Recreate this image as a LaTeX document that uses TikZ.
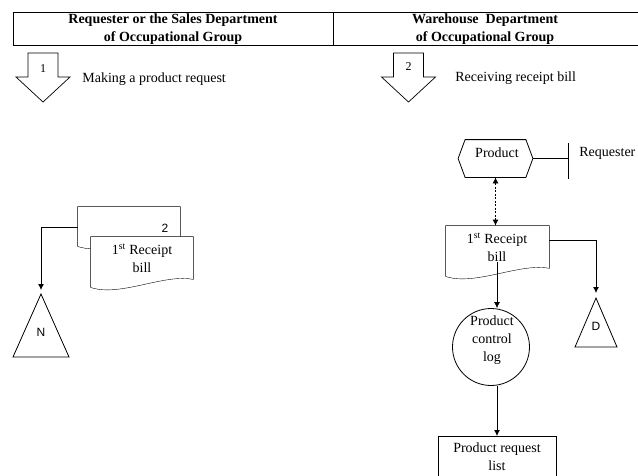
\documentclass[tikz,border=0pt]{standalone}
\usepackage{fontspec}
\setmainfont{Liberation Serif}
\newfontfamily\labelsans{Liberation Sans}
\usetikzlibrary{arrows.meta,calc,backgrounds}

% outline of a document symbol: straight top and sides, wavy bottom edge
\newcommand\docoutline[1]{%
  \draw[fill=white] (#1.north west) -- (#1.north east)
    -- ($(#1.south east)+(0,-8)$)
    .. controls ($(#1.south east)+(-29,-14)$) and ($(#1.south west)+(29,10)$) .. (#1.south west)
    -- cycle;}

\begin{document}
\begin{tikzpicture}[x=1pt,y=-1pt,
  line width=0.8pt,
  txt/.style={inner sep=0pt, align=center, font=\fontsize{14}{18}\selectfont},
  hdr/.style={inner sep=0pt, align=center, font=\bfseries\fontsize{14}{18}\selectfont},
  num/.style={inner sep=0pt, font=\fontsize{12}{14}\selectfont},
  sanslbl/.style={inner sep=0pt, font=\labelsans\fontsize{12}{14}\selectfont},
  cell/.style={draw, rectangle, inner sep=0pt, minimum height=33, anchor=north west},
  area/.style={rectangle, inner sep=0pt},
  flow/.style={-{Latex[length=6pt,width=6pt]}},
  blockarrow/.pic={\draw[line width=0.7pt, fill=white]
      (-15,0) -- (15,0) -- (15,24) -- (27,24) -- (0,49) -- (-27,24) -- (-15,24) -- cycle;}
]
\clip (0,0) rectangle (638,475);
\begin{scope}[on background layer]
  \fill[white] (0,0) rectangle (638,475);
\end{scope}

% header row
\node[cell, minimum width=320] (col1) at (12.5,12.3) {};
\node[cell, minimum width=320] (col2) at (332.5,12.3) {};
\node[hdr] (h1) at (173,29) {Requester or the Sales Department\\of Occupational Group};
\node[hdr] (h2) at (485,29) {Warehouse\ \ Department\\of Occupational Group};

% step markers
\pic at (43,53) {blockarrow};
\node[num] (s1) at (43,69) {1};
\node[txt, anchor=west] (s1t) at (82,79) {Making a product request};
\pic at (408.5,53) {blockarrow};
\node[num] (s2) at (408.5,67) {2};
\node[txt, anchor=west] (s2t) at (455,78) {Receiving receipt bill};

% requester side: two copies of the receipt bill
\node[area, minimum width=102, minimum height=39] (bd) at (129,226.5) {};
\node[area, minimum width=102, minimum height=50] (fd) at (142,262) {};
\begin{scope}[on background layer]
  \docoutline{bd}
  \docoutline{fd}
\end{scope}
\node[sanslbl] (bdn) at (165,228) {2};
\node[txt] (fdt) at (142,258) {1\textsuperscript{st} Receipt\\bill};

\coordinate (napex) at (41,294);
\draw (napex) -- (69,357) -- (13,357) -- cycle;
\node[sanslbl] (ntxt) at (41,332) {N};
\draw[flow, shorten >=4pt] ($(bd.north west)+(0,21)$) -| (napex);

% warehouse side
\node[area, minimum width=74, minimum height=37] (prod) at (495.5,158.5) {};
\draw (prod.west) -- ($(prod.north west)+(7,0)$) -- ($(prod.north east)+(-7,0)$)
  -- (prod.east) -- ($(prod.south east)+(-7,0)$) -- ($(prod.south west)+(7,0)$) -- cycle;
\node[txt] (prodt) at (497,153) {Product};
\coordinate (rq) at (568,158.5);
\draw (prod.east) -- (rq);
\draw ($(rq)+(0,-15.5)$) -- ($(rq)+(0,20.5)$);
\node[txt, anchor=west] (rqt) at (579,153) {Requester};

\node[area, minimum width=103, minimum height=50] (rb) at (497.5,251) {};
\begin{scope}[on background layer]
  \docoutline{rb}
\end{scope}
\node[txt] (rbt) at (497,247) {1\textsuperscript{st} Receipt\\bill};

\draw[{Latex[length=6pt,width=6pt]}-{Latex[length=6pt,width=6pt]}, dash pattern=on 2pt off 1.5pt]
  (prod.south) -- (prod.south |- rb.north);

\coordinate (dapex) at (596,298);
\draw (dapex) -- (617,347) -- (575,347) -- cycle;
\node[sanslbl] (dtxt) at (596,326) {D};
\draw[flow, shorten >=5pt] ($(rb.north east)+(0,15)$) -| (dapex);

\node[draw, circle, minimum size=77, inner sep=0pt] (log) at (491,347) {};
\node[txt] (logt) at (492,340) {Product\\control\\log};
\draw[flow] (rbt.south) -- (rbt.south |- log.north);

\node[draw, rectangle, inner sep=0pt, minimum width=118, minimum height=50, anchor=north] (prl) at (497,436) {};
\node[txt] (prlt) at (497,457) {Product request\\list};
\draw[flow] (log.south -| rbt.south) -- (rbt.south |- prl.north);
\end{tikzpicture}
\end{document}
